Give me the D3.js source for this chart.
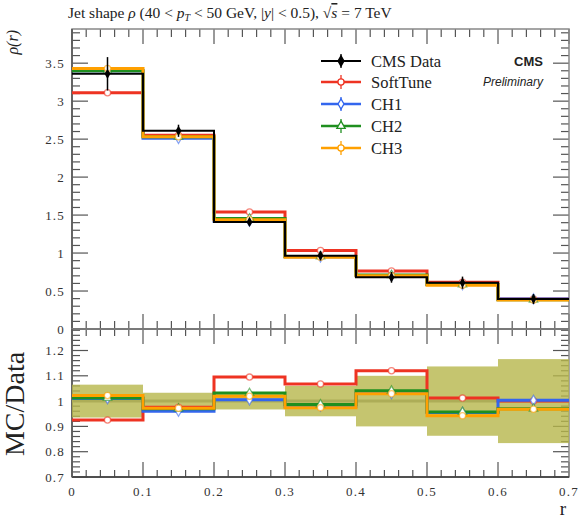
<!DOCTYPE html>
<html>
<head>
<meta charset="utf-8">
<script src="https://d3js.org/d3.v7.min.js"></script>
<style>
  body { margin: 0; background: #fff; }
  svg text { font-family: "Liberation Serif", "DejaVu Serif", serif; fill: #222; }
  .tick-label { font-size: 13px; letter-spacing: 1.2px; fill: #333; }
</style>
</head>
<body>
<div id="chart"></div>
<script>

// bin edges in r
var binEdges = [0, 0.1, 0.2, 0.3, 0.4, 0.5, 0.6, 0.7];

// top panel: rho(r)
var dataRho    = [3.36, 2.61, 1.41, 0.965, 0.68, 0.61, 0.395];
var dataErr    = [0.22, 0.08, 0.045, 0.06, 0.07, 0.08, 0.065];
var softRho    = [3.11, 2.55, 1.54, 1.035, 0.765, 0.615, 0.395];
var ch1Rho     = [3.40, 2.51, 1.42, 0.95, 0.70, 0.585, 0.396];
var ch2Rho     = [3.40, 2.53, 1.455, 0.955, 0.71, 0.585, 0.385];
var ch3Rho     = [3.43, 2.53, 1.44, 0.945, 0.70, 0.575, 0.383];

// bottom panel: MC / Data
var softRatio  = [0.925, 0.976, 1.095, 1.068, 1.12, 1.012, 1.0];
var ch1Ratio   = [1.01, 0.96, 1.005, 0.98, 1.03, 0.955, 1.003];
var ch2Ratio   = [1.012, 0.97, 1.032, 0.987, 1.041, 0.957, 0.97];
var ch3Ratio   = [1.022, 0.972, 1.019, 0.974, 1.029, 0.942, 0.968];
var bandRel    = [0.065, 0.033, 0.033, 0.06, 0.1, 0.137, 0.166];

var seriesNames = ["SoftTune", "CH1", "CH2", "CH3"];
var xTicks      = [0, 0.1, 0.2, 0.3, 0.4, 0.5, 0.6, 0.7];
var yTicksTop   = [0, 0.5, 1, 1.5, 2, 2.5, 3, 3.5];
var yTicksRatio = [0.7, 0.8, 0.9, 1, 1.1, 1.2];

var colors = { "CMS Data": "#000", "SoftTune": "#ee3322", "CH1": "#3366ee", "CH2": "#1f8f1f", "CH3": "#ffa000" };
var shapes = { "SoftTune": d3.symbolCircle, "CH1": d3.symbolDiamond, "CH2": d3.symbolTriangle, "CH3": d3.symbolCircle };

var width = 580, height = 519;
var svg = d3.select("#chart").append("svg")
    .attr("width", width)
    .attr("height", height);

var x = d3.scaleLinear().domain([0, 0.7]).range([72, 569]);
var yTop = d3.scaleLinear().domain([0, 3.95]).range([329, 29]);
var yRat = d3.scaleLinear().domain([0.7, 1.285]).range([477, 329]);

// step path from bin values
function stepPath(vals, y) {
  var pts = vals.map(function(v, i) { return [binEdges[i], v]; });
  pts.push([binEdges[binEdges.length - 1], vals[vals.length - 1]]);
  return d3.line()
      .x(function(d) { return x(d[0]); })
      .y(function(d) { return y(d[1]); })
      .curve(d3.curveStepAfter)(pts);
}
var binC = binEdges.slice(0, -1).map(function(e, i) { return (e + binEdges[i + 1]) / 2; });

// ---------- frames and ticks ----------
function drawFrame(y, major, minor, tickLen) {
  var g = svg.append("g").attr("class", "frame");
  var x0 = x.range()[0], x1 = x.range()[1];
  var yb = y.range()[0], yt = y.range()[1];
  // y ticks left and right
  minor.forEach(function(v) {
    var isMaj = major.some(function(m) { return Math.abs(m - v) < 1e-6; });
    var L = isMaj ? 16 : 8;
    g.append("line").attr("x1", x0).attr("x2", x0 + L).attr("y1", y(v)).attr("y2", y(v))
      .attr("stroke", "#555").attr("stroke-width", 1.2);
    g.append("line").attr("x1", x1).attr("x2", x1 - L).attr("y1", y(v)).attr("y2", y(v))
      .attr("stroke", "#555").attr("stroke-width", 1.2);
  });
  // x ticks top and bottom
  d3.range(0, 0.7001, 0.02).forEach(function(v) {
    var isMaj = Math.abs(v * 10 - Math.round(v * 10)) < 1e-6;
    var L = isMaj ? tickLen[0] : tickLen[1];
    g.append("line").attr("x1", x(v)).attr("x2", x(v)).attr("y1", yb).attr("y2", yb - L)
      .attr("stroke", "#555").attr("stroke-width", 1.2);
    g.append("line").attr("x1", x(v)).attr("x2", x(v)).attr("y1", yt).attr("y2", yt + L)
      .attr("stroke", "#555").attr("stroke-width", 1.2);
  });
  g.append("rect").attr("x", x0).attr("y", yt).attr("width", x1 - x0).attr("height", yb - yt)
    .attr("fill", "none").attr("stroke", "#888").attr("stroke-width", 1.5);
  g.append("line").attr("x1", x0).attr("x2", x1).attr("y1", yb).attr("y2", yb)
    .attr("stroke", "#333").attr("stroke-width", 1.6);
  g.append("line").attr("x1", x0).attr("x2", x0).attr("y1", yt).attr("y2", yb)
    .attr("stroke", "#555").attr("stroke-width", 1.6);
}

drawFrame(yTop, yTicksTop, d3.range(0, 3.9501, 0.1), [15, 8]);
drawFrame(yRat, yTicksRatio, d3.range(0.7, 1.2801, 0.02), [15, 7]);

// tick labels
svg.append("g").selectAll("text").data(yTicksTop).enter().append("text")
  .attr("class", "tick-label")
  .attr("x", 65).attr("y", function(d) { return yTop(d) + 4.5; })
  .attr("text-anchor", "end")
  .text(function(d) { return d; });
svg.append("g").selectAll("text").data(yTicksRatio).enter().append("text")
  .attr("class", "tick-label")
  .attr("x", 65).attr("y", function(d) { return yRat(d) + 4.5; })
  .attr("text-anchor", "end")
  .text(function(d) { return d; });
svg.append("g").selectAll("text").data(xTicks).enter().append("text")
  .attr("class", "tick-label")
  .attr("x", function(d) { return x(d); }).attr("y", 496)
  .attr("text-anchor", "middle")
  .text(function(d) { return d; });

// ---------- top panel ----------
var topVals = [softRho, ch1Rho, ch2Rho, ch3Rho];
var topG = svg.append("g");
topVals.forEach(function(vals, k) {
  topG.append("path").attr("d", stepPath(vals, yTop))
    .attr("fill", "none").attr("stroke", colors[seriesNames[k]]).attr("stroke-width", 3);
});
topVals.forEach(function(vals, k) {
  topG.selectAll(null).data(vals).enter().append("path")
    .attr("transform", function(d, i) { return "translate(" + x(binC[i]) + "," + yTop(d) + ")"; })
    .attr("d", d3.symbol().type(shapes[seriesNames[k]]).size(30))
    .attr("fill", "#fff").attr("stroke", colors[seriesNames[k]]).attr("stroke-opacity", 0.6).attr("stroke-width", 1.3);
});
// data
topG.append("path").attr("d", stepPath(dataRho, yTop))
  .attr("fill", "none").attr("stroke", "#000").attr("stroke-width", 2);
topG.selectAll(null).data(dataRho).enter().append("line")
  .attr("x1", function(d, i) { return x(binC[i]); }).attr("x2", function(d, i) { return x(binC[i]); })
  .attr("y1", function(d, i) { return yTop(d + dataErr[i]); })
  .attr("y2", function(d, i) { return yTop(d - dataErr[i]); })
  .attr("stroke", "#000").attr("stroke-width", 1.5);
topG.selectAll(null).data(dataRho).enter().append("path")
  .attr("transform", function(d, i) { return "translate(" + x(binC[i]) + "," + yTop(d) + ")"; })
  .attr("d", d3.symbol().type(d3.symbolDiamond).size(30))
  .attr("fill", "#000");

// ---------- ratio panel ----------
var ratG = svg.append("g");
ratG.append("line").attr("x1", x(0)).attr("x2", x(0.7)).attr("y1", yRat(1)).attr("y2", yRat(1))
  .attr("stroke", "#888").attr("stroke-width", 3);
ratG.selectAll(null).data(bandRel).enter().append("rect")
  .attr("x", function(d, i) { return x(binEdges[i]); })
  .attr("width", function(d, i) { return x(binEdges[i + 1]) - x(binEdges[i]); })
  .attr("y", function(d) { return yRat(1 + d); })
  .attr("height", function(d) { return yRat(1 - d) - yRat(1 + d); })
  .attr("fill", "rgb(182,182,75)").attr("fill-opacity", 0.8);
var ratVals = [softRatio, ch1Ratio, ch2Ratio, ch3Ratio];
ratVals.forEach(function(vals, k) {
  ratG.append("path").attr("d", stepPath(vals, yRat))
    .attr("fill", "none").attr("stroke", colors[seriesNames[k]]).attr("stroke-width", 3);
});
ratVals.forEach(function(vals, k) {
  ratG.selectAll(null).data(vals).enter().append("path")
    .attr("transform", function(d, i) { return "translate(" + x(binC[i]) + "," + yRat(d) + ")"; })
    .attr("d", d3.symbol().type(shapes[seriesNames[k]]).size(30))
    .attr("fill", "#fff").attr("stroke", colors[seriesNames[k]]).attr("stroke-opacity", 0.6).attr("stroke-width", 1.3);
});

// ---------- legend ----------
var legendNames = ["CMS Data"].concat(seriesNames);
var legY = [61, 82, 104, 126, 148];
var leg = svg.append("g");
legendNames.forEach(function(n, i) {
  var yy = legY[i];
  leg.append("line").attr("x1", 321).attr("x2", 361).attr("y1", yy).attr("y2", yy)
    .attr("stroke", colors[n]).attr("stroke-width", n === "CMS Data" ? 2 : 2.5);
  leg.append("line").attr("x1", 341).attr("x2", 341).attr("y1", yy - 7).attr("y2", yy + 7)
    .attr("stroke", colors[n]).attr("stroke-width", 1.3);
  leg.append("path").attr("transform", "translate(341," + yy + ")")
    .attr("d", d3.symbol().type(n === "CMS Data" ? d3.symbolDiamond : shapes[n]).size(30))
    .attr("fill", n === "CMS Data" ? "#000" : "#fff")
    .attr("stroke", colors[n]).attr("stroke-width", 1.3);
  leg.append("text").attr("x", 371).attr("y", yy + 5.5)
    .style("font-size", "16.5px").text(n);
});

svg.append("text").attr("x", 543).attr("y", 66).attr("text-anchor", "end")
  .style("font-family", "'Liberation Sans', Arial, sans-serif").style("font-weight", "bold")
  .style("font-size", "13px").text("CMS");
svg.append("text").attr("x", 543).attr("y", 86).attr("text-anchor", "end")
  .style("font-family", "'Liberation Sans', Arial, sans-serif").style("font-style", "italic")
  .style("font-size", "12px").text("Preliminary");

// ---------- titles ----------
var title = svg.append("text").attr("x", 68).attr("y", 18).style("font-size", "15.5px");
title.append("tspan").text("Jet shape ");
title.append("tspan").style("font-style", "italic").text("ρ");
title.append("tspan").text(" (40 < ");
title.append("tspan").style("font-style", "italic").text("p");
title.append("tspan").style("font-style", "italic").style("font-size", "10px").attr("dy", 3).text("T");
title.append("tspan").attr("dy", -3).text(" < 50 GeV, |");
title.append("tspan").style("font-style", "italic").text("y");
title.append("tspan").text("| < 0.5), √");
title.append("tspan").style("font-style", "italic").style("text-decoration", "overline").text("s");
title.append("tspan").text(" = 7 TeV");

svg.append("text").attr("transform", "translate(18,30) rotate(-90)")
  .attr("text-anchor", "end").style("font-size", "16px").style("font-style", "italic").text("ρ(r)");
svg.append("text").attr("transform", "translate(24,404) rotate(-90)")
  .attr("text-anchor", "middle").style("font-size", "28px").text("MC/Data");
svg.append("text").attr("x", 566).attr("y", 515).attr("text-anchor", "end")
  .style("font-size", "19px").text("r");

</script>
</body>
</html>
